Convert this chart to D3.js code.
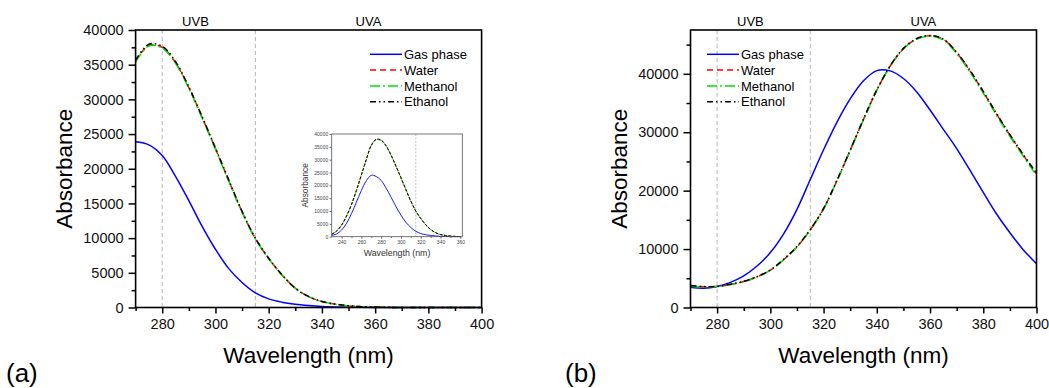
<!DOCTYPE html>
<html>
<head>
<meta charset="utf-8">
<script src="https://cdn.jsdelivr.net/npm/d3@7/dist/d3.min.js"></script>
<style>
body{margin:0;background:#fff;}
svg text{font-family:Arial,"Liberation Sans",sans-serif;}
</style>
</head>
<body>
<svg id="chart" width="1049" height="388"></svg>
<script>
// (a) spectra, 230-400 nm (main plot shows 270-400, inset 230-360)
var wlA = [230,235,240,245,250,255,260,265,270,275,280,285,290,295,300,305,310,315,320,325,330,335,340,345,350,355,360,365,370,375,380,385,390,395,400];
var gasA = [500,1100,2600,5200,9000,13500,18000,21800,23900,23450,21900,18900,15400,11700,8400,5600,3600,2100,1240,770,480,290,150,80,40,20,10,0,0,0,0,0,0,0,0];
var waterA = [900,2200,4500,8000,12500,18000,24000,30000,35500,37800,37500,35300,31700,27400,22900,18300,13800,9950,7080,4700,2780,1580,860,480,240,120,50,20,0,0,0,0,0,0,0];
var methanolA = [850,2150,4450,7900,12400,17900,23900,29900,35400,37700,37400,35200,31600,27300,22800,18200,13750,9900,7050,4680,2770,1570,850,470,235,115,45,15,0,0,0,0,0,0,0];
var ethanolA = [950,2250,4550,8100,12600,18100,24100,30150,35650,37950,37650,35450,31800,27500,23000,18400,13850,10000,7100,4720,2790,1590,870,490,245,125,55,25,0,0,0,0,0,0,0];

// (b) spectra, 270-400 nm
var wlB = [270,275,280,285,290,295,300,305,310,315,320,325,330,335,340,345,350,355,360,365,370,375,380,385,390,395,400];
var gasB = [3450,3300,3600,4300,5400,7100,9400,12600,16800,21900,27000,31700,35700,38800,40550,40500,39200,36900,33800,30500,27200,23500,19700,16000,12800,9900,7500];
var waterB = [3700,3550,3600,3950,4450,5250,6400,8200,10400,13300,16900,21700,26900,32200,37200,41300,44300,46000,46500,45900,43600,40500,36900,33100,29500,26100,22900];
var methanolB = [3650,3520,3580,3920,4420,5220,6360,8150,10350,13250,16850,21650,26850,32150,37150,41250,44250,45950,46450,45800,43450,40300,36700,32900,29300,25900,22600];
var ethanolB = [3750,3580,3620,3980,4480,5280,6440,8250,10450,13350,16950,21750,26950,32250,37250,41350,44350,46050,46550,45950,43700,40600,37000,33200,29600,26200,23000];

var seriesNames = ["Gas phase","Water","Methanol","Ethanol"];
var bandEdges = [270,315,400];
var bandNames = ["UVB","UVA"];
var bandLines = [280,315];

var xMajor = [280,300,320,340,360,380,400];
var xMinor = [270,290,310,330,350,370,390];
var yMajorA = [0,5000,10000,15000,20000,25000,30000,35000,40000];
var yMinorA = [2500,7500,12500,17500,22500,27500,32500,37500];
var yMajorB = [0,10000,20000,30000,40000];
var yMinorB = [5000,15000,25000,35000,45000];
var insetXMajor = [240,260,280,300,320,340,360];
var insetXMinor = [250,270,290,310,330,350];
var insetYMajor = [0,5000,10000,15000,20000,25000,30000,35000,40000];

var styles = [
  {color:"#0000ff", dash:null},
  {color:"#ff0000", dash:"6,4"},
  {color:"#00e000", dash:"10,3,2,3"},
  {color:"#000000", dash:"6,3,1.5,3,1.5,3"}
];

var svg = d3.select("#chart");
var W = 346, TOP = 30, BOT = 307.5;
var fmt = d3.format("d");

function drawPanel(p){
  var g = svg.append("g");
  var x = d3.scaleLinear().domain([270,400]).range([p.left, p.left+W]);
  var y = d3.scaleLinear().domain([0,p.yMax]).range([BOT,TOP]);

  g.selectAll(".band").data(bandLines).enter().append("line")
    .attr("x1",function(d){return x(d);}).attr("x2",function(d){return x(d);})
    .attr("y1",TOP).attr("y2",BOT)
    .attr("stroke","#b5b5b5").attr("stroke-width",1).attr("stroke-dasharray","4,3");

  g.selectAll(".bandlbl").data(bandNames).enter().append("text")
    .attr("x",function(d,i){return x((bandEdges[i]+bandEdges[i+1])/2);})
    .attr("y",26).attr("text-anchor","middle").attr("font-size",13)
    .text(function(d){return d;});

  var line = d3.line().x(function(d){return x(d[0]);}).y(function(d){return y(d[1]);})
    .curve(d3.curveCatmullRom.alpha(0.5));
  p.series.forEach(function(s,i){
    var pts = p.wl.map(function(w,j){return [w,s[j]];}).filter(function(d){return d[0]>=270;});
    g.append("path").datum(pts).attr("d",line).attr("fill","none")
      .attr("stroke",styles[i].color).attr("stroke-width",1.5)
      .attr("stroke-dasharray",styles[i].dash);
  });

  // axes
  var xa = g.append("g").attr("transform","translate(0,"+BOT+")")
    .call(d3.axisBottom(x).tickValues(xMajor).tickSize(6).tickPadding(5).tickFormat(fmt));
  var xm = g.append("g").attr("transform","translate(0,"+BOT+")")
    .call(d3.axisBottom(x).tickValues(xMinor).tickSize(3.5).tickFormat(""));
  var ya = g.append("g").attr("transform","translate("+p.left+",0)")
    .call(d3.axisLeft(y).tickValues(p.yMajor).tickSize(7).tickPadding(5).tickFormat(fmt));
  var ym = g.append("g").attr("transform","translate("+p.left+",0)")
    .call(d3.axisLeft(y).tickValues(p.yMinor).tickSize(4).tickFormat(""));
  [xa,xm,ya,ym].forEach(function(a){
    a.select(".domain").remove();
    a.selectAll("line").attr("stroke-width",1.5);
    a.selectAll("text").attr("font-size",14.5).attr("fill","#111");
  });

  g.append("rect").attr("x",p.left).attr("y",TOP).attr("width",W).attr("height",BOT-TOP)
    .attr("fill","none").attr("stroke","#000").attr("stroke-width",1.6);

  g.append("text").attr("x",p.left+W/2).attr("y",363).attr("text-anchor","middle")
    .attr("font-size",22.5).text("Wavelength (nm)");
  g.append("text").attr("transform","translate("+(p.left-64)+","+((TOP+BOT)/2)+") rotate(-90)")
    .attr("text-anchor","middle").attr("font-size",22.5).text("Absorbance");
  g.append("text").attr("x",p.tag[0]).attr("y",382).attr("font-size",26).text(p.tag[1]);

  // legend
  var lg = g.selectAll(".leg").data(seriesNames).enter().append("g")
    .attr("transform",function(d,i){return "translate("+p.legX+","+(54.3+i*15.8)+")";});
  lg.append("line").attr("x1",0).attr("x2",32).attr("y1",0).attr("y2",0)
    .attr("stroke",function(d,i){return styles[i].color;}).attr("stroke-width",1.5)
    .attr("stroke-dasharray",function(d,i){return styles[i].dash;});
  lg.append("text").attr("x",34).attr("y",4.6).attr("font-size",13).text(function(d){return d;});
}

function drawInset(){
  var g = svg.append("g");
  var L = 331.7, R = 462.3, T = 134, B = 236.7;
  var x = d3.scaleLinear().domain([230,362]).range([L,R]);
  var y = d3.scaleLinear().domain([0,40000]).range([B,T]);
  g.append("rect").attr("x",L).attr("y",T).attr("width",R-L).attr("height",B-T).attr("fill","#fff");
  g.append("line").attr("x1",x(315)).attr("x2",x(315)).attr("y1",T).attr("y2",B)
    .attr("stroke","#aaa").attr("stroke-width",0.7).attr("stroke-dasharray","2,1.5");
  var line = d3.line().x(function(d){return x(d[0]);}).y(function(d){return y(d[1]);})
    .curve(d3.curveCatmullRom.alpha(0.5));
  [gasA,waterA,methanolA,ethanolA].forEach(function(s,i){
    var pts = wlA.map(function(w,j){return [w,s[j]];}).filter(function(d){return d[0]<=362;});
    g.append("path").datum(pts).attr("d",line).attr("fill","none")
      .attr("stroke",styles[i].color).attr("stroke-width",0.9)
      .attr("stroke-dasharray",i==0?null:"3,1.5");
  });
  var xa = g.append("g").attr("transform","translate(0,"+B+")")
    .call(d3.axisBottom(x).tickValues(insetXMajor).tickSize(2).tickPadding(1.5).tickFormat(fmt));
  var xm = g.append("g").attr("transform","translate(0,"+B+")")
    .call(d3.axisBottom(x).tickValues(insetXMinor).tickSize(1.2).tickFormat(""));
  var ya = g.append("g").attr("transform","translate("+L+",0)")
    .call(d3.axisLeft(y).tickValues(insetYMajor).tickSize(2).tickPadding(1.5).tickFormat(fmt));
  [xa,xm,ya].forEach(function(a){
    a.select(".domain").remove();
    a.selectAll("line").attr("stroke-width",0.6);
    a.selectAll("text").attr("font-size",5).attr("fill","#444");
  });
  g.append("rect").attr("x",L).attr("y",T).attr("width",R-L).attr("height",B-T)
    .attr("fill","none").attr("stroke","#555").attr("stroke-width",0.8);
  g.append("text").attr("x",(L+R)/2).attr("y",256).attr("text-anchor","middle")
    .attr("font-size",8.8).attr("fill","#333").text("Wavelength (nm)");
  g.append("text").attr("transform","translate(308,"+((T+B)/2)+") rotate(-90)")
    .attr("text-anchor","middle").attr("font-size",8.3).attr("fill","#333").text("Absorbance");
}

drawPanel({left:135.6, yMax:40000, yMajor:yMajorA, yMinor:yMinorA, wl:wlA,
  series:[gasA,waterA,methanolA,ethanolA], legX:370, tag:[6,"(a)"]});
drawInset();
drawPanel({left:690.5, yMax:47500, yMajor:yMajorB, yMinor:yMinorB, wl:wlB,
  series:[gasB,waterB,methanolB,ethanolB], legX:707, tag:[565,"(b)"]});
</script>
</body>
</html>
